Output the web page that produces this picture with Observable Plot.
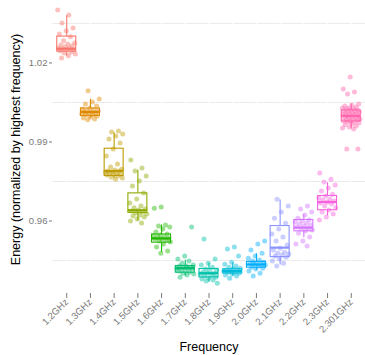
<!DOCTYPE html>
<html>
<head>
<meta charset="utf-8">
<script src="https://cdn.jsdelivr.net/npm/d3@7"></script>
<script src="https://cdn.jsdelivr.net/npm/@observablehq/plot@0.6"></script>
<style>
  html, body { margin: 0; padding: 0; background: white; }
</style>
</head>
<body>
<div id="chart"></div>
<script>
const categories = ["1.2GHz","1.3GHz","1.4GHz","1.5GHz","1.6GHz","1.7GHz","1.8GHz","1.9GHz","2.0GHz","2.1GHz","2.2GHz","2.3GHz","2.301GHz"];
const palette = ["#F8766D","#E18A00","#BE9C00","#8CAB00","#24B700","#00BE70","#00C1AB","#00BBDA","#00ACFC","#8B93FF","#D575FE","#F962DD","#FF65AC"];

const e12 = [1.0401,1.0382,1.0352,1.0333,1.0322,1.0310,1.0299,1.0284,1.0276,1.0272,1.0268,1.0265,1.0261,1.0257,1.0257,1.0253,1.0250,1.0250,1.0246,1.0242,1.0238,1.0234,1.0227,1.0219];
const e13 = [1.0094,1.0063,1.0052,1.0044,1.0037,1.0029,1.0025,1.0021,1.0018,1.0018,1.0014,1.0014,1.0010,1.0010,1.0006,1.0003,1.0003,0.9999,0.9995,0.9991,0.9987,0.9984];
const e14 = [0.9942,0.9938,0.9930,0.9923,0.9911,0.9896,0.9873,0.9847,0.9816,0.9805,0.9797,0.9794,0.9790,0.9790,0.9786,0.9786,0.9782,0.9782,0.9778,0.9778,0.9775,0.9771,0.9767,0.9763,0.9759];
const e15 = [0.9832,0.9801,0.9790,0.9771,0.9752,0.9733,0.9706,0.9684,0.9668,0.9657,0.9650,0.9646,0.9642,0.9638,0.9634,0.9631,0.9627,0.9623,0.9619,0.9615,0.9608,0.9600,0.9593];
const e16 = [0.9653,0.9649,0.9585,0.9581,0.9577,0.9570,0.9558,0.9551,0.9547,0.9543,0.9539,0.9539,0.9535,0.9532,0.9532,0.9528,0.9524,0.9520,0.9513,0.9501,0.9486,0.9478];
const e17 = [0.9577,0.9467,0.9456,0.9448,0.9440,0.9433,0.9429,0.9429,0.9425,0.9425,0.9421,0.9421,0.9418,0.9418,0.9414,0.9410,0.9406,0.9402,0.9399,0.9395,0.9387];
const e18 = [0.9532,0.9456,0.9440,0.9433,0.9425,0.9418,0.9414,0.9410,0.9406,0.9402,0.9402,0.9399,0.9395,0.9391,0.9387,0.9383,0.9380,0.9376,0.9372,0.9364];
const e19 = [0.9501,0.9494,0.9467,0.9444,0.9436,0.9429,0.9425,0.9421,0.9418,0.9414,0.9414,0.9410,0.9410,0.9406,0.9406,0.9402,0.9399,0.9395,0.9391,0.9383];
const e20 = [0.9524,0.9513,0.9490,0.9478,0.9467,0.9459,0.9452,0.9448,0.9444,0.9440,0.9440,0.9436,0.9436,0.9433,0.9429,0.9425,0.9421,0.9418,0.9410,0.9402,0.9391];
const e21 = [0.9683,0.9657,0.9634,0.9611,0.9592,0.9570,0.9551,0.9539,0.9524,0.9509,0.9497,0.9490,0.9482,0.9478,0.9475,0.9471,0.9467,0.9463,0.9456,0.9448,0.9440,0.9429];
const e22 = [0.9657,0.9646,0.9634,0.9623,0.9611,0.9604,0.9600,0.9596,0.9592,0.9589,0.9585,0.9581,0.9577,0.9573,0.9570,0.9566,0.9562,0.9554,0.9539,0.9524,0.9513,0.9505];
const e23 = [0.9782,0.9759,0.9748,0.9737,0.9725,0.9714,0.9702,0.9695,0.9687,0.9683,0.9680,0.9676,0.9672,0.9668,0.9665,0.9657,0.9650,0.9642,0.9634,0.9627,0.9615,0.9604];
const e2301 = [1.0147,1.0101,1.0090,1.0082,1.0044,1.0040,1.0037,1.0033,1.0029,1.0029,1.0025,1.0025,1.0021,1.0021,1.0018,1.0018,1.0014,1.0014,1.0010,1.0010,1.0006,1.0006,1.0003,1.0003,0.9999,0.9999,0.9995,0.9995,0.9991,0.9991,0.9987,0.9987,0.9984,0.9984,0.9980,0.9980,0.9976,0.9976,0.9972,0.9968,0.9965,0.9961,0.9957,0.9953,0.9949,0.9873,0.9873];

const lowerWhisker = [1.0225,0.9990,0.9762,0.9600,0.9482,0.9391,0.9368,0.9391,0.9414,0.9433,0.9537,0.9619,0.9950];
const q1 =           [1.0243,0.9999,0.9771,0.9631,0.9518,0.9404,0.9386,0.9401,0.9423,0.9463,0.9561,0.9641,0.9978];
const median =       [1.0254,1.0014,0.9790,0.9641,0.9534,0.9421,0.9402,0.9410,0.9435,0.9499,0.9575,0.9672,0.9999];
const q3 =           [1.0300,1.0027,0.98745,0.9705,0.9549,0.9429,0.9418,0.9417,0.9445,0.9581,0.9604,0.9695,1.0020];
const upperWhisker = [1.0379,1.0062,0.9935,0.9793,0.9585,0.9451,0.9440,0.9441,0.9476,0.9680,0.9625,0.9745,1.0044];

const yTicks = [0.96, 0.99, 1.02];
const yMinor = [0.945, 0.975, 1.005, 1.035];

const energy = [e12,e13,e14,e15,e16,e17,e18,e19,e20,e21,e22,e23,e2301];

const points = energy.flatMap((vals, i) => vals.map((v, k) => ({
  i, cat: categories[i], v,
  jit: (((k * 0.618034 + i * 0.37) % 1) - 0.5) * 0.76
})));
const boxes = categories.map((cat, i) => ({
  i, cat, lo: lowerWhisker[i], q1: q1[i], med: median[i], q3: q3[i], hi: upperWhisker[i]
}));
const half = 0.4;

const chart = Plot.plot({
  width: 365,
  height: 355,
  marginLeft: 52,
  marginRight: 0,
  marginTop: 5,
  marginBottom: 62,
  style: { fontFamily: "'Liberation Sans', Arial, sans-serif", background: "white" },
  x: { type: "linear", domain: [-0.6, categories.length - 0.4], axis: null },
  y: { domain: [0.9325, 1.0418], axis: null },
  color: { domain: categories, range: palette },
  marks: [
    Plot.ruleY(yMinor, { stroke: "#EBEBEB", strokeWidth: 1 }),
    Plot.ruleX(d3.range(categories.length), { stroke: "white", strokeWidth: 1.2 }),
    Plot.axisY({ ticks: yTicks, tickFormat: ".2f", tickSize: 3, tickPadding: 2, fontSize: 9.6, color: "#7a7a7a", label: null }),
    Plot.axisX({ ticks: d3.range(categories.length), tickFormat: i => categories[i], tickRotate: -45, tickSize: 5, tickPadding: 2, fontSize: 9.6, color: "#7a7a7a", label: null }),
    Plot.ruleX(boxes, { x: "i", y1: "q3", y2: "hi", stroke: "cat", strokeWidth: 1.1 }),
    Plot.ruleX(boxes, { x: "i", y1: "lo", y2: "q1", stroke: "cat", strokeWidth: 1.1 }),
    Plot.rect(boxes, { x1: d => d.i - half, x2: d => d.i + half, y1: "q1", y2: "q3", fill: "white", stroke: "cat", strokeWidth: 1.1 }),
    Plot.ruleY(boxes, { y: "med", x1: d => d.i - half, x2: d => d.i + half, stroke: "cat", strokeWidth: 2.2 }),
    Plot.dot(points, { x: d => d.i + d.jit, y: "v", fill: "cat", r: 2.5, fillOpacity: 0.45, stroke: null }),
    Plot.text(["Energy (normalized by highest frequency)"], { frameAnchor: "left", textAnchor: "middle", rotate: -90, dx: -37, fontSize: 12.5, fill: "black" }),
    Plot.text(["Frequency"], { frameAnchor: "bottom", dy: 57, fontSize: 12.5, fill: "black" })
  ]
});
document.getElementById("chart").appendChild(chart);
</script>
</body>
</html>
